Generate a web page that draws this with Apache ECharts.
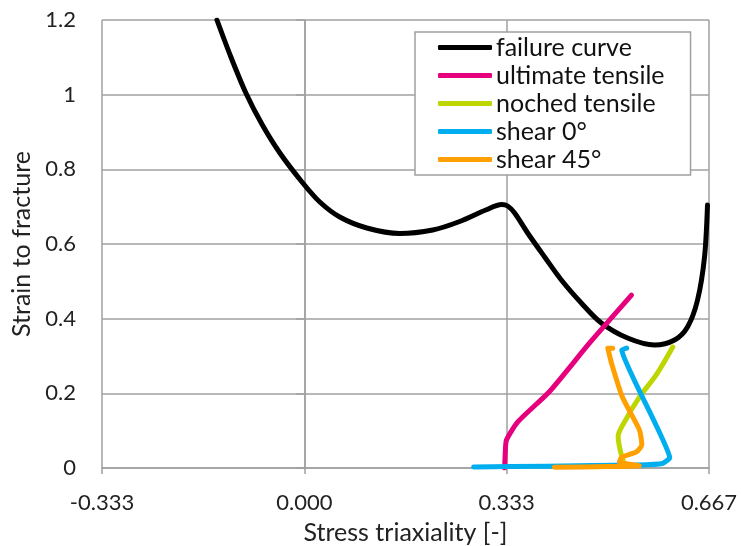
<!DOCTYPE html>
<html>
<head>
<meta charset="utf-8">
<script src="https://cdn.jsdelivr.net/npm/echarts@6/dist/echarts.min.js"></script>
<style>html,body{margin:0;padding:0;background:#fff}#c{width:741px;height:546px}</style>
</head>
<body>
<div id="c"></div>
<script>
const seriesNames = ['failure curve', 'ultimate tensile', 'noched tensile', 'shear 0°', 'shear 45°'];
const failureCurve = [
  [-0.1440, 1.200], [-0.1210, 1.101], [-0.0963, 1.0045], [-0.0700, 0.9214], [-0.0403, 0.8438],
  [-0.0025, 0.7634], [0.0255, 0.7125], [0.0584, 0.6723], [0.1029, 0.6429], [0.1572, 0.6281],
  [0.2115, 0.6375], [0.2560, 0.6603], [0.2988, 0.6911], [0.3251, 0.7058], [0.3350, 0.7018],
  [0.3465, 0.6830], [0.3679, 0.6295], [0.3959, 0.5652], [0.4234, 0.5036], [0.4563, 0.4420],
  [0.4893, 0.3884], [0.5325, 0.3482], [0.5770, 0.3295], [0.6099, 0.3429], [0.6313, 0.3777],
  [0.6478, 0.4500], [0.6593, 0.5652], [0.6642, 0.7045]
];
const ultimateTensile = [
  [0.330, 0.0], [0.331, 0.04], [0.333, 0.075], [0.352, 0.124], [0.404, 0.205],
  [0.470, 0.335], [0.539, 0.463]
];
const nochedTensile = [
  [0.526, 0.015], [0.520, 0.050], [0.517, 0.085], [0.528, 0.125], [0.552, 0.190],
  [0.580, 0.250], [0.607, 0.324]
];
const shear0 = [
  [0.279, 0.003], [0.400, 0.005], [0.549, 0.008], [0.590, 0.012], [0.602, 0.027],
  [0.523, 0.316], [0.531, 0.321]
];
const shear45 = [
  [0.412, 0.002], [0.500, 0.004], [0.552, 0.006], [0.519, 0.016], [0.523, 0.029],
  [0.547, 0.043], [0.556, 0.062], [0.552, 0.102], [0.524, 0.190], [0.506, 0.281],
  [0.500, 0.321], [0.508, 0.321]
];
const colors = ['#000000', '#E6007E', '#BED600', '#00AEEF', '#FFA000'];
const xMin = -1/3, xMax = 2/3, xStep = 1/3;
const yMin = 0, yMax = 1.2, yStep = 0.2;

const FONT = 'Lato';
const chart = echarts.init(document.getElementById('c'), null, {renderer: 'canvas'});
const dataList = [failureCurve, ultimateTensile, nochedTensile, shear0, shear45];
const smoothList = [0.3, 0.2, 0.3, 0.1, 0.2];
chart.setOption({
  animation: false,
  textStyle: {fontFamily: FONT},
  grid: {left: 102, right: 32, top: 20, bottom: 78, containLabel: false, outerBoundsMode: 'none'},
  legend: {
    data: seriesNames,
    orient: 'vertical',
    left: 415, top: 32,
    padding: [3, 26, 3, 23],
    borderColor: '#a0a0a0', borderWidth: 1.5,
    backgroundColor: '#fff',
    icon: 'roundRect',
    itemWidth: 54, itemHeight: 5,
    itemGap: 3,
    textStyle: {fontFamily: FONT, fontSize: 25, color: '#111', padding: [0,0,0,-1]}
  },
  xAxis: {
    type: 'value', min: xMin, max: xMax, interval: xStep,
    name: 'Stress triaxiality [-]', nameLocation: 'middle', nameGap: 52,
    nameTextStyle: {fontFamily: FONT, fontSize: 25, color: '#222'},
    axisLine: {show: true, onZero: false, lineStyle: {color: '#a0a0a0', width: 1.5}},
    axisTick: {show: true, length: 6, lineStyle: {color: '#a0a0a0', width: 1.5}},
    axisLabel: {fontFamily: FONT, fontSize: 22, color: '#222', margin: 24,
      formatter: v => v.toFixed(3)},
    splitLine: {show: true, lineStyle: {color: '#a0a0a0', width: 1.5}}
  },
  yAxis: {
    type: 'value', min: yMin, max: yMax, interval: yStep,
    name: 'Strain to fracture', nameLocation: 'middle', nameGap: 66,
    nameTextStyle: {fontFamily: FONT, fontSize: 25, color: '#222'},
    axisLine: {show: true, lineStyle: {color: '#a0a0a0', width: 1.5}},
    axisTick: {show: true, length: 8, lineStyle: {color: '#a0a0a0', width: 1.5}},
    axisLabel: {fontFamily: FONT, fontSize: 22, color: '#222', margin: 26,
      formatter: v => String(parseFloat(v.toFixed(1)))},
    splitLine: {show: true, lineStyle: {color: '#a0a0a0', width: 1.5}}
  },
  series: seriesNames.map((n, i) => ({
    name: n, type: 'line', data: dataList[i], showSymbol: false, symbol: 'none',
    smooth: smoothList[i], color: colors[i],
    lineStyle: {color: colors[i], width: 5, cap: 'round', join: 'round'},
    clip: true
  }))
});
</script>
</body>
</html>
